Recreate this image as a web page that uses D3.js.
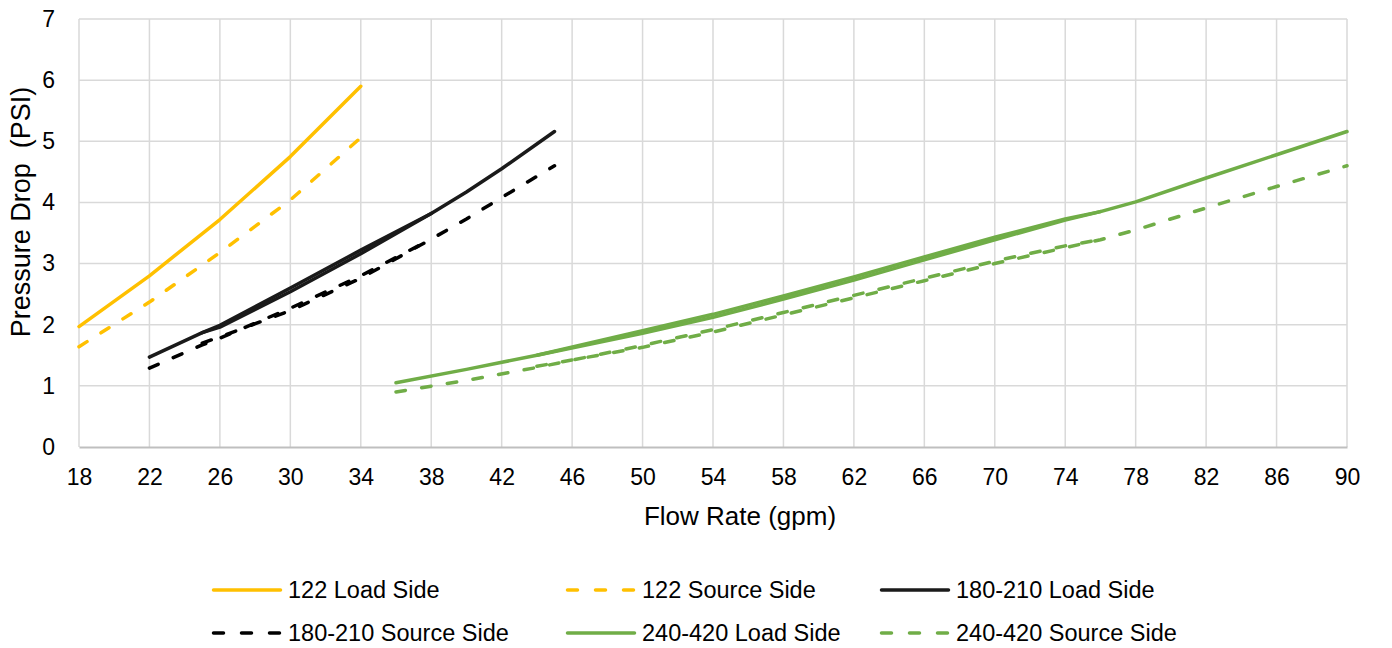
<!DOCTYPE html>
<html>
<head>
<meta charset="utf-8">
<script src="https://cdn.jsdelivr.net/npm/d3@7"></script>
<style>
  body { margin: 0; background: #fff; }
  svg { font-family: "Liberation Sans", Arial, sans-serif; }
</style>
</head>
<body>
<svg width="1392" height="648"></svg>
<script>
// x ticks and y ticks
const xTicks = [18,22,26,30,34,38,42,46,50,54,58,62,66,70,74,78,82,86,90];
const yTicks = [0,1,2,3,4,5,6,7];

// 122 model
const flow122 = [18,22,26,30,34];
const load122 = [1.97,2.80,3.72,4.75,5.90];
const source122 = [1.64,2.37,3.18,4.04,5.06];

// 180-210 models (two overlapping curves each)
const flow180a = [22,25,26,30,34,38];
const load180a = [1.47,1.87,1.99,2.60,3.22,3.82];
const source180a = [1.29,1.67,1.78,2.27,2.80,3.40];
const flow180b = [25,26,30,34,38,40,42,45];
const load180b = [1.87,1.96,2.54,3.16,3.82,4.17,4.55,5.16];
const source180b = [1.70,1.80,2.23,2.76,3.40,3.73,4.08,4.60];

// 240-420 models (two overlapping curves each)
const flow240a = [36,40,44,50,54,58,62,66,70,74,76];
const load240a = [1.05,1.27,1.50,1.90,2.17,2.47,2.78,3.11,3.43,3.73,3.85];
const source240a = [0.90,1.09,1.30,1.66,1.92,2.20,2.48,2.76,3.04,3.29,3.39];
const flow240b = [44,50,54,58,62,66,70,74,76,78,82,86,90];
const load240b = [1.50,1.86,2.12,2.42,2.73,3.06,3.39,3.71,3.85,4.01,4.40,4.78,5.16];
const source240b = [1.32,1.63,1.88,2.16,2.44,2.72,3.00,3.26,3.39,3.55,3.91,4.26,4.60];

const seriesNames = ["122 Load Side","122 Source Side","180-210 Load Side",
                     "180-210 Source Side","240-420 Load Side","240-420 Source Side"];
const seriesColors = ["#FFC000","#FFC000","#1a1a1a","#000000","#70AD47","#70AD47"];
const seriesDashed = [false,true,false,true,false,true];

const zip = (xs, ys) => xs.map((x, i) => ({x: x, y: ys[i]}));

// each legend entry -> list of curves
const curves = [
    [zip(flow122, load122)],
    [zip(flow122, source122)],
    [zip(flow180a, load180a), zip(flow180b, load180b)],
    [zip(flow180a, source180a), zip(flow180b, source180b)],
    [zip(flow240a, load240a), zip(flow240b, load240b)],
    [zip(flow240a, source240a), zip(flow240b, source240b)]
];

const area = { left: 79, right: 1347, top: 19, bottom: 447 };
const svg = d3.select("svg");

const scX = d3.scaleLinear().domain([18, 90]).range([area.left, area.right]);
const scY = d3.scaleLinear().domain([0, 7]).range([area.bottom, area.top]);

// grid
svg.append("g")
   .selectAll("line")
   .data(xTicks)
   .enter()
   .append("line")
   .attr("x1", d => scX(d)).attr("x2", d => scX(d))
   .attr("y1", area.top).attr("y2", area.bottom)
   .attr("stroke", "#d9d9d9").attr("stroke-width", 1.5);

svg.append("g")
   .selectAll("line")
   .data(yTicks.filter(d => d > 0))
   .enter()
   .append("line")
   .attr("x1", area.left).attr("x2", area.right)
   .attr("y1", d => scY(d)).attr("y2", d => scY(d))
   .attr("stroke", "#d9d9d9").attr("stroke-width", 1.5);

// axes (labels only, Excel style)
let axisX = d3.axisBottom(scX).tickValues(xTicks).tickSize(0).tickPadding(22)
              .tickFormat(d3.format("d"));
let gx = svg.append("g")
   .attr("transform", `translate(0, ${area.bottom})`)
   .call(axisX);
gx.select(".domain").attr("stroke", "#bfbfbf").attr("stroke-width", 2);
gx.selectAll("text").attr("font-size", 23).attr("fill", "#000")
  .style("font-family", "Liberation Sans, Arial, sans-serif");

let axisY = d3.axisLeft(scY).tickValues(yTicks).tickSize(0).tickPadding(24)
              .tickFormat(d3.format("d"));
let gy = svg.append("g")
   .attr("transform", `translate(${area.left}, 0)`)
   .call(axisY);
gy.select(".domain").remove();
gy.selectAll("text").attr("font-size", 23).attr("fill", "#000")
  .style("font-family", "Liberation Sans, Arial, sans-serif");

// axis titles
svg.append("text")
   .attr("x", 740)
   .attr("y", 525)
   .attr("text-anchor", "middle")
   .attr("font-size", 26)
   .text("Flow Rate (gpm)");

svg.append("text")
   .attr("transform", "translate(30, 212) rotate(-90)")
   .attr("text-anchor", "middle")
   .attr("font-size", 27)
   .style("white-space", "pre")
   .text("Pressure Drop  (PSI)");

// lines
const line = d3.line().x(d => scX(d.x)).y(d => scY(d.y));

curves.forEach((group, i) => {
    group.forEach(pts => {
        svg.append("path")
           .datum(pts)
           .attr("d", line)
           .attr("fill", "none")
           .attr("stroke", seriesColors[i])
           .attr("stroke-width", 3.5)
           .attr("stroke-linecap", "round")
           .attr("stroke-linejoin", "round")
           .attr("stroke-dasharray", seriesDashed[i] ? "9.5,16.5" : null);
    });
});

// legend
const legendPos = [
    {x: 212, y: 590}, {x: 566, y: 590}, {x: 880, y: 590},
    {x: 212, y: 633}, {x: 566, y: 633}, {x: 880, y: 633}
];

seriesNames.forEach((name, i) => {
    let g = svg.append("g").attr("transform", `translate(${legendPos[i].x}, ${legendPos[i].y})`);
    g.append("line")
     .attr("x1", 1.5).attr("x2", 68.5)
     .attr("y1", 0).attr("y2", 0)
     .attr("stroke", seriesColors[i])
     .attr("stroke-width", 3.5)
     .attr("stroke-linecap", "round")
     .attr("stroke-dasharray", seriesDashed[i] ? "10,18" : null);
    g.append("text")
     .attr("x", 76)
     .attr("y", 8)
     .attr("font-size", 23.5)
     .text(name);
});
</script>
</body>
</html>
